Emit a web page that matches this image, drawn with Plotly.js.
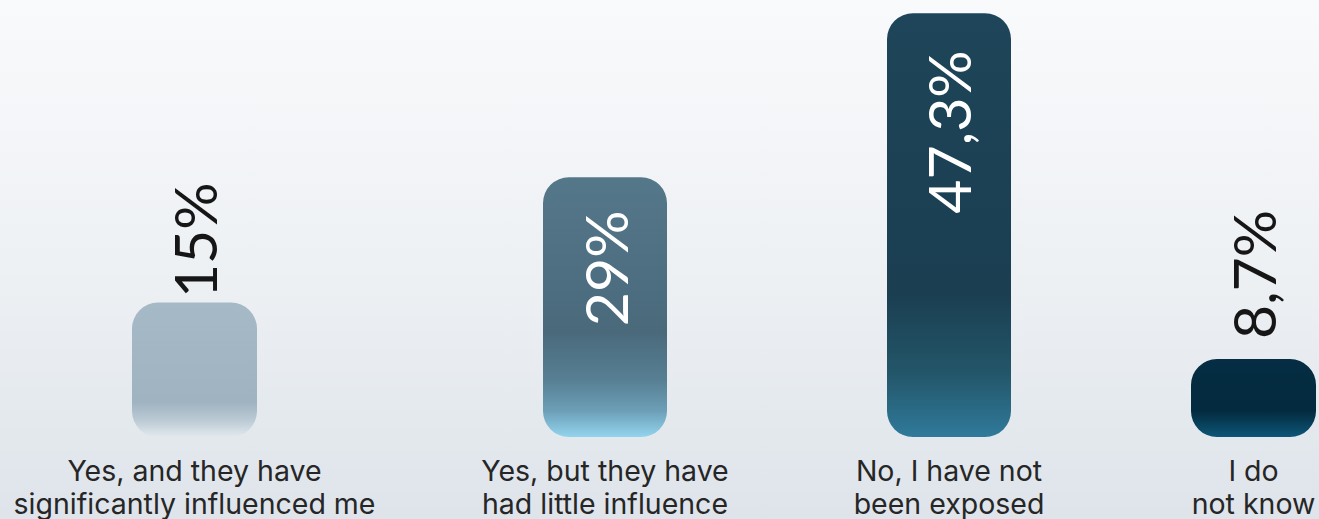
<!DOCTYPE html>
<html>
<head>
<meta charset="utf-8">
<script src="https://cdn.plot.ly/plotly-3.0.1.min.js"></script>
<style>
html, body { margin:0; padding:0; width:1319px; height:519px; overflow:hidden;
  background: linear-gradient(to bottom, #f9fafc 0%, #eef1f4 50%, #dee4ea 100%); }
#chart { width:1319px; height:519px; }
</style>
</head>
<body>
<div id="chart"></div>
<script>
// ---- data ----
const categories = [
  "Yes, and they have<br>significantly influenced me",
  "Yes, but they have<br>had little influence",
  "No, I have not<br>been exposed",
  "I do<br>not know"
];
const values = [15, 29, 47.3, 8.7];
const valueLabels = ["15%", "29%", "47,3%", "8,7%"];

// ---- styles / layout ----
const W = 1319, H = 519;
const barPx = [[132, 257], [543, 667], [887, 1011], [1191, 1316]];
const labelInside = [false, true, true, false];
const labelShift = [2, -31, -36, 18];
const gradients = [
  [[0, "#a6b9c6"], [0.74, "#9fb3c1"], [0.88, "#bccbd5"], [1, "#e3e9ee"]],
  [[0, "#547789"], [0.6, "#4a6a7c"], [0.78, "#577f93"], [0.9, "#6c9fb7"], [1, "#93d4ee"]],
  [[0, "#1e4559"], [0.66, "#1b3e51"], [0.85, "#235669"], [1, "#307a9b"]],
  [[0, "#052d43"], [0.66, "#032a3e"], [1, "#0d5677"]]
];
const pxPerUnit = 8.96;
const baseY = 437;

const traces = [];
const layout = {
  width: W, height: H,
  margin: {l: 0, r: 0, t: 0, b: H - baseY, pad: 0},
  paper_bgcolor: "rgba(0,0,0,0)",
  plot_bgcolor: "rgba(0,0,0,0)",
  showlegend: false,
  yaxis: {range: [0, baseY / pxPerUnit], visible: false, fixedrange: true},
  annotations: [],
  font: {family: "Inter, 'Open Sans', sans-serif"}
};

categories.forEach((cat, i) => {
  const ax = i === 0 ? "x" : "x" + (i + 1);
  const axName = i === 0 ? "xaxis" : "xaxis" + (i + 1);
  traces.push({
    type: "bar", x: [cat], y: [values[i]], xaxis: ax, yaxis: "y",
    width: [1], marker: {color: gradients[i][1][1], line: {width: 0}},
    hoverinfo: "none"
  });
  layout[axName] = {
    type: "category", range: [-0.5, 0.5], anchor: "y",
    domain: [barPx[i][0] / W, barPx[i][1] / W],
    showline: false, showgrid: false, zeroline: false, ticks: "",
    tickfont: {family: "Inter, sans-serif", size: 28.5, color: "#262626"},
    ticklabelstandoff: 14, fixedrange: true
  };
  layout.annotations.push({
    xref: ax, yref: "y", x: cat, y: values[i],
    text: valueLabels[i], textangle: -90, showarrow: false,
    xanchor: "center",
    yanchor: labelInside[i] ? "top" : "bottom",
    yshift: labelShift[i],
    font: {family: "Lato, sans-serif", size: 59, weight: 400,
           color: labelInside[i] ? "#ffffff" : "#161616"}
  });
});

function restyleSvg(gd) {
  const svg = gd.querySelector("svg.main-svg");
  const defs = svg.querySelector("defs");
  const NS = "http://www.w3.org/2000/svg";
  gradients.forEach((stops, i) => {
    if (svg.querySelector("#barGrad" + i)) return;
    const g = document.createElementNS(NS, "linearGradient");
    g.setAttribute("id", "barGrad" + i);
    g.setAttribute("x1", "0"); g.setAttribute("y1", "0");
    g.setAttribute("x2", "0"); g.setAttribute("y2", "1");
    stops.forEach(s => {
      const st = document.createElementNS(NS, "stop");
      st.setAttribute("offset", s[0]);
      st.setAttribute("stop-color", s[1]);
      g.appendChild(st);
    });
    defs.appendChild(g);
  });
  gd.querySelectorAll(".barlayer .trace").forEach((tg, i) => {
    tg.querySelectorAll(".point path").forEach(p => {
      if (p.dataset.rounded) return;
      const b = p.getBBox();
      const r = Math.min(26, b.width / 2, b.height / 2);
      const x0 = b.x, y0 = b.y, x1 = b.x + b.width, y1 = b.y + b.height;
      const d = `M${x0 + r},${y0}H${x1 - r}A${r},${r} 0 0 1 ${x1},${y0 + r}` +
        `V${y1 - r}A${r},${r} 0 0 1 ${x1 - r},${y1}H${x0 + r}` +
        `A${r},${r} 0 0 1 ${x0},${y1 - r}V${y0 + r}A${r},${r} 0 0 1 ${x0 + r},${y0}Z`;
      p.setAttribute("d", d);
      p.dataset.rounded = "1";
      p.style.fill = "url(#barGrad" + i + ")";
    });
  });
  // tighter line spacing for the two-line category labels (all x axes)
  gd.querySelectorAll("svg text tspan.line").forEach(t => {
    const dy = t.getAttribute("dy");
    if (dy && parseFloat(dy) > 0) t.setAttribute("dy", "33px");
  });
}

Plotly.newPlot("chart", traces, layout, {staticPlot: true, displayModeBar: false}).then(gd => {
  restyleSvg(gd);
  setTimeout(() => restyleSvg(gd), 50);
  setTimeout(() => restyleSvg(gd), 300);
});
</script>
</body>
</html>
